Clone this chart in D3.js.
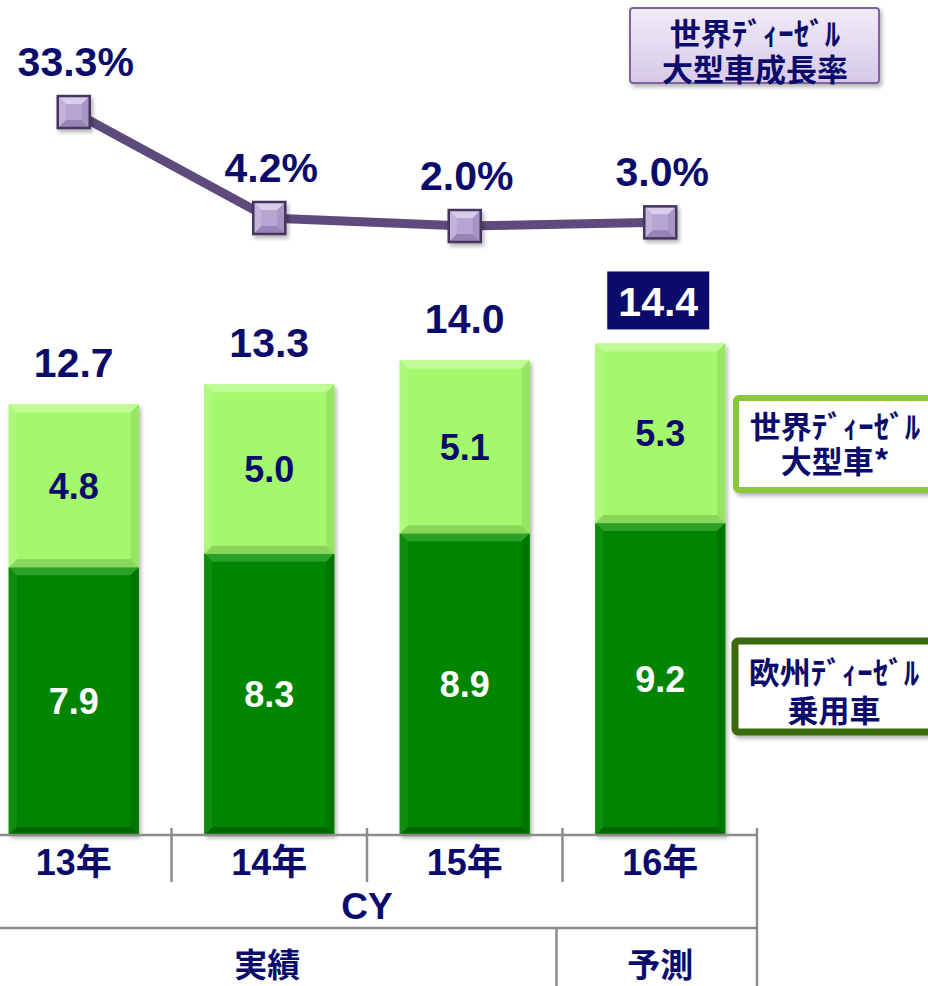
<!DOCTYPE html>
<html>
<head>
<meta charset="utf-8">
<script src="https://cdn.jsdelivr.net/npm/d3@7"></script>
<style>
  body { margin: 0; background: #fff; }
  text { font-family: "Liberation Sans", Arial, "Noto Sans CJK JP", sans-serif; font-weight: bold; }
  .jp { font-family: "Noto Sans CJK JP", sans-serif; font-weight: bold; }
</style>
</head>
<body>
<div id="container"></div>
<script>
"use strict";

// chart data
const years = ["13年", "14年", "15年", "16年"];
const euroCar = [7.9, 8.3, 8.9, 9.2];      // 欧州ディーゼル乗用車
const heavyTruck = [4.8, 5.0, 5.1, 5.3];   // 世界ディーゼル大型車
const totals = [12.7, 13.3, 14.0, 14.4];
const growth = [33.3, 4.2, 2.0, 3.0];      // 成長率 (%)
const growthLabels = ["33.3%", "4.2%", "2.0%", "3.0%"];
const periods = ["実績", "予測"];
const periodYears = [["13年", "15年"], ["16年", "16年"]];

const navy = "#0b0b6b";
const width = 928, height = 986;
const base = 835;

const svg = d3.select("#container")
    .append("svg")
    .attr("width", width)
    .attr("height", height);

const defs = svg.append("defs");
defs.append("filter").attr("id", "shadow")
    .attr("x", "-20%").attr("y", "-20%").attr("width", "140%").attr("height", "140%")
    .append("feDropShadow")
    .attr("dx", 2).attr("dy", 3).attr("stdDeviation", 2)
    .attr("flood-color", "#000").attr("flood-opacity", 0.3);
const grad = defs.append("linearGradient").attr("id", "lav")
    .attr("x1", 0).attr("y1", 0).attr("x2", 0).attr("y2", 1);
grad.append("stop").attr("offset", "0%").attr("stop-color", "#f1ecf8");
grad.append("stop").attr("offset", "100%").attr("stop-color", "#d6c9e8");

// scales
const x = d3.scaleBand().domain(years).range([-24, 758]).padding(0);
const y = d3.scaleLinear().domain([0, 16]).range([base, base - 16 * 33.9]);
const yLine = d3.scaleLinear().domain([0, 35]).range([233.3, 233.3 - 35 * 3.642]);
const barW = x.bandwidth() * 0.665;
const cx = (d) => x(d) + x.bandwidth() / 2;

// draws a bevelled block
function bevelBlock(g, x0, y0, w, h, c) {
    const b = 8, x1 = x0 + w, y1 = y0 + h;
    g.append("rect").attr("x", x0).attr("y", y0).attr("width", w).attr("height", h).attr("fill", c.main);
    const poly = (pts, fill) => g.append("polygon").attr("points", pts.map((p) => p.join(",")).join(" ")).attr("fill", fill);
    poly([[x0, y0], [x1, y0], [x1 - b, y0 + b], [x0 + b, y0 + b]], c.top);
    poly([[x0, y1], [x1, y1], [x1 - b, y1 - b], [x0 + b, y1 - b]], c.bottom);
    poly([[x0, y0], [x0 + b, y0 + b], [x0 + b, y1 - b], [x0, y1]], c.left);
    poly([[x1, y0], [x1 - b, y0 + b], [x1 - b, y1 - b], [x1, y1]], c.right);
}

const lightC = { main: "#a4f86e", top: "#c0fb98", bottom: "#8ad65a", left: "#aef97c", right: "#96e564" };
const darkC = { main: "#068506", top: "#2aa026", bottom: "#056605", left: "#0a8c0a", right: "#067606" };

// bars
years.forEach((yr, i) => {
    const g = svg.append("g").attr("filter", "url(#shadow)");
    const x0 = cx(yr) - barW / 2;
    const yMid = y(euroCar[i]);
    const yTop = y(euroCar[i] + heavyTruck[i]);
    bevelBlock(g, x0, yMid, barW, base - yMid, darkC);
    bevelBlock(g, x0, yTop, barW, yMid - yTop, lightC);

    svg.append("text")
        .attr("x", cx(yr)).attr("y", (yMid + base) / 2).attr("dy", "0.36em")
        .attr("text-anchor", "middle").style("font-size", "36px").attr("fill", "#fff")
        .text(euroCar[i].toFixed(1));
    svg.append("text")
        .attr("x", cx(yr)).attr("y", (yMid + yTop) / 2).attr("dy", "0.36em")
        .attr("text-anchor", "middle").style("font-size", "36px").attr("fill", navy)
        .text(heavyTruck[i].toFixed(1));

    // total label, forecast year gets a navy box
    const ty = yTop - 27;
    const last = i === years.length - 1;
    if (last) {
        svg.append("rect").attr("x", cx(yr) - 53).attr("y", ty - 45)
            .attr("width", 102).attr("height", 58).attr("fill", navy);
    }
    svg.append("text")
        .attr("x", cx(yr) - (last ? 2 : 0)).attr("y", ty)
        .attr("text-anchor", "middle").style("font-size", "41px")
        .attr("fill", last ? "#fff" : navy)
        .text(totals[i].toFixed(1));
});

// growth line
const line = d3.line().x((d, i) => cx(years[i])).y((d) => yLine(d));
svg.append("path").datum(growth)
    .attr("d", line).attr("fill", "none")
    .attr("stroke", "#5e4a7c").attr("stroke-width", 9);

growth.forEach((v, i) => {
    const g = svg.append("g").attr("filter", "url(#shadow)");
    const s = 32, x0 = cx(years[i]) - s / 2, y0 = yLine(v) - s / 2;
    bevelBlock(g, x0, y0, s, s, { main: "#b7a5d1", top: "#d8cdea", bottom: "#9883b6", left: "#c2b2da", right: "#a795c4" });
    g.append("rect").attr("x", x0).attr("y", y0).attr("width", s).attr("height", s)
        .attr("fill", "none").attr("stroke", "#45345e").attr("stroke-width", 2.5);
    svg.append("text")
        .attr("x", cx(years[i]) + 2).attr("y", yLine(v) - 36)
        .attr("text-anchor", "middle").style("font-size", "41px").attr("fill", navy)
        .text(growthLabels[i]);
});

// axis table
const grid = svg.append("g").attr("stroke", "#8c8c8c").attr("stroke-width", 2.5);
grid.append("line").attr("x1", 0).attr("x2", 758).attr("y1", base).attr("y2", base);
years.slice(1).forEach((yr) => {
    grid.append("line").attr("x1", x(yr)).attr("x2", x(yr)).attr("y1", base - 7).attr("y2", 882);
});
grid.append("line").attr("x1", 757).attr("x2", 757).attr("y1", base - 7).attr("y2", height);
grid.append("line").attr("x1", 0).attr("x2", 758).attr("y1", 928).attr("y2", 928);
grid.append("line").attr("x1", x("16年") - 6).attr("x2", x("16年") - 6).attr("y1", 928).attr("y2", height);

years.forEach((yr) => {
    svg.append("text").attr("x", cx(yr)).attr("y", 875)
        .attr("text-anchor", "middle").style("font-size", "36px").attr("fill", navy).text(yr);
});
svg.append("text").attr("x", (x.range()[0] + x.range()[1]) / 2).attr("y", 919)
    .attr("text-anchor", "middle").style("font-size", "37px").attr("fill", navy).text("CY");

periods.forEach((p, i) => {
    const a = x(periodYears[i][0]), b = x(periodYears[i][1]) + x.bandwidth();
    svg.append("text").attr("class", "jp").attr("x", (a + b) / 2 - (i === 0 ? 2 : 0)).attr("y", 963)
        .attr("dominant-baseline", "central")
        .attr("text-anchor", "middle").style("font-size", "33px").attr("fill", navy).text(p);
});

// legend boxes, two lines in one text element
function legendBox(bx, by, bw, bh, stroke, sw, fill, lines, tx, ty) {
    svg.append("rect").attr("x", bx).attr("y", by).attr("width", bw).attr("height", bh)
        .attr("rx", 3).attr("fill", fill).attr("stroke", stroke).attr("stroke-width", sw)
        .attr("filter", "url(#shadow)");
    const t = svg.append("text").attr("class", "jp")
        .attr("text-anchor", "middle").style("font-size", "31px").attr("fill", navy);
    lines.forEach((s, i) => {
        t.append("tspan").attr("x", tx).attr("y", ty[i])
            .attr("dominant-baseline", "central").text(s);
    });
}
legendBox(630, 8, 249, 75, "#7f64a1", 2, "url(#lav)", ["世界ﾃﾞｨｰｾﾞﾙ", "大型車成長率"], 755, [31, 67]);
legendBox(736, 398, 210, 92, "#8cc63e", 6, "#fff", ["世界ﾃﾞｨｰｾﾞﾙ", "大型車*"], 835, [424, 459]);
legendBox(735, 641, 210, 91, "#3a6a0c", 7, "#fff", ["欧州ﾃﾞｨｰｾﾞﾙ", "乗用車"], 834, [670, 708]);
</script>
</body>
</html>
